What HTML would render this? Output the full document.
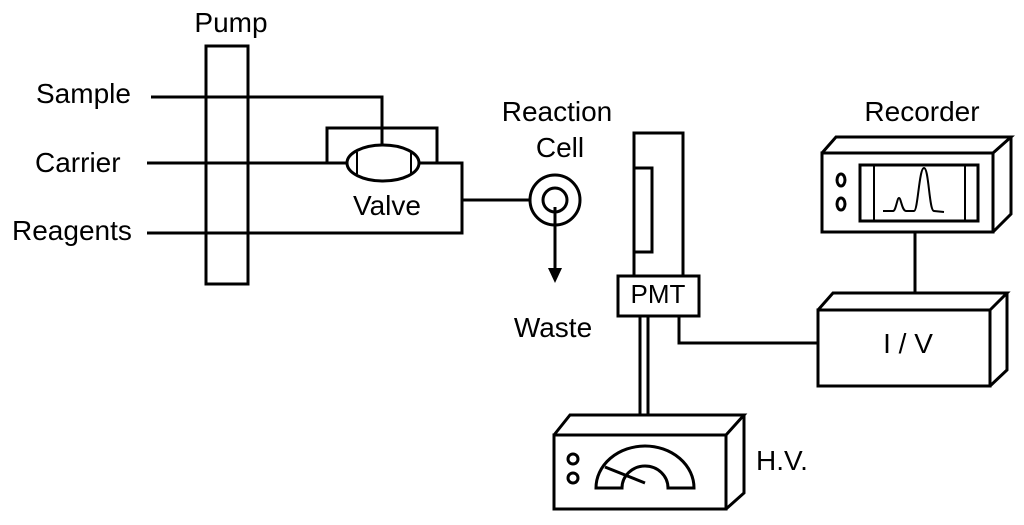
<!DOCTYPE html>
<html><head><meta charset="utf-8"><style>
html,body{margin:0;padding:0;background:#fff;}
svg{display:block;}
text{font-family:"Liberation Sans",sans-serif;font-size:28px;fill:#000;}
</style></head><body>
<svg width="1024" height="525" viewBox="0 0 1024 525" xmlns="http://www.w3.org/2000/svg">
<g fill="none" stroke="#000" stroke-width="3">
<rect x="206" y="46" width="42" height="238"/>
<polyline points="151,97 382,97 382,146"/>
<polyline points="147,163 327,163 327,128 437,128 437,163"/>
<line x1="327" y1="163" x2="347" y2="163"/>
<polyline points="420,163 462,163 462,233 147,233"/>
<ellipse cx="383" cy="163" rx="36" ry="18"/>
<line x1="357" y1="152" x2="357" y2="174" stroke-width="2"/>
<line x1="411" y1="151" x2="411" y2="175" stroke-width="2"/>
<line x1="462" y1="200" x2="530" y2="200"/>
<circle cx="555" cy="200" r="25"/>
<circle cx="555" cy="200" r="12"/>
<line x1="555" y1="207" x2="555" y2="270"/>
<rect x="634" y="133" width="49" height="143"/>
<rect x="634" y="168" width="18" height="84"/>
<rect x="618" y="276" width="81" height="40"/>
<line x1="640" y1="316" x2="640" y2="415"/>
<line x1="648" y1="316" x2="648" y2="415"/>
<polyline points="679,316 679,343 818,343"/>
<rect x="822" y="153" width="171" height="79"/>
<polyline points="822,153 836,137 1011,137 993,153"/>
<polyline points="1011,137 1011,214 993,232"/>
<rect x="860" y="165" width="118" height="56"/>
<line x1="874" y1="165" x2="874" y2="221" stroke-width="2"/>
<line x1="965" y1="165" x2="965" y2="221" stroke-width="2"/>
<ellipse cx="841" cy="180" rx="4" ry="6"/>
<ellipse cx="841" cy="204" rx="4" ry="6"/>
<path stroke-width="2" d="M883,211 L893,211 C896,211 897,198 899,198 C901,198 902,211 906,211 L914,211 C918,211 919,168 924,168 C929,168 929,211 934,211 L944,212"/>
<line x1="915" y1="232" x2="915" y2="293"/>
<rect x="818" y="310" width="172" height="76"/>
<polyline points="818,310 833,293 1007,293 990,310"/>
<polyline points="1007,293 1007,370 990,386"/>
<rect x="554" y="435" width="172" height="74"/>
<polyline points="554,435 570,415 744,415 726,435"/>
<polyline points="744,415 744,493 726,509"/>
<circle cx="573" cy="459" r="5"/>
<circle cx="573" cy="478" r="5"/>
<path d="M596,488 A49,42 0 0 1 694,488 L668,488 A23,22 0 0 0 622,488 Z"/>
<line x1="605" y1="467" x2="645" y2="483"/>
</g>
<polygon points="548,268 562,268 555,283" fill="#000"/>
<text x="231" y="32" text-anchor="middle">Pump</text>
<text x="36" y="103">Sample</text>
<text x="35" y="172">Carrier</text>
<text x="12" y="240">Reagents</text>
<text x="387" y="215" text-anchor="middle">Valve</text>
<text x="557" y="121" text-anchor="middle">Reaction</text>
<text x="560" y="157" text-anchor="middle">Cell</text>
<text x="553" y="337" text-anchor="middle">Waste</text>
<text x="658" y="303" text-anchor="middle" style="font-size:26px">PMT</text>
<text x="922" y="121" text-anchor="middle">Recorder</text>
<text x="908" y="353" text-anchor="middle">I / V</text>
<text x="756" y="470">H.V.</text>
</svg>
</body></html>
